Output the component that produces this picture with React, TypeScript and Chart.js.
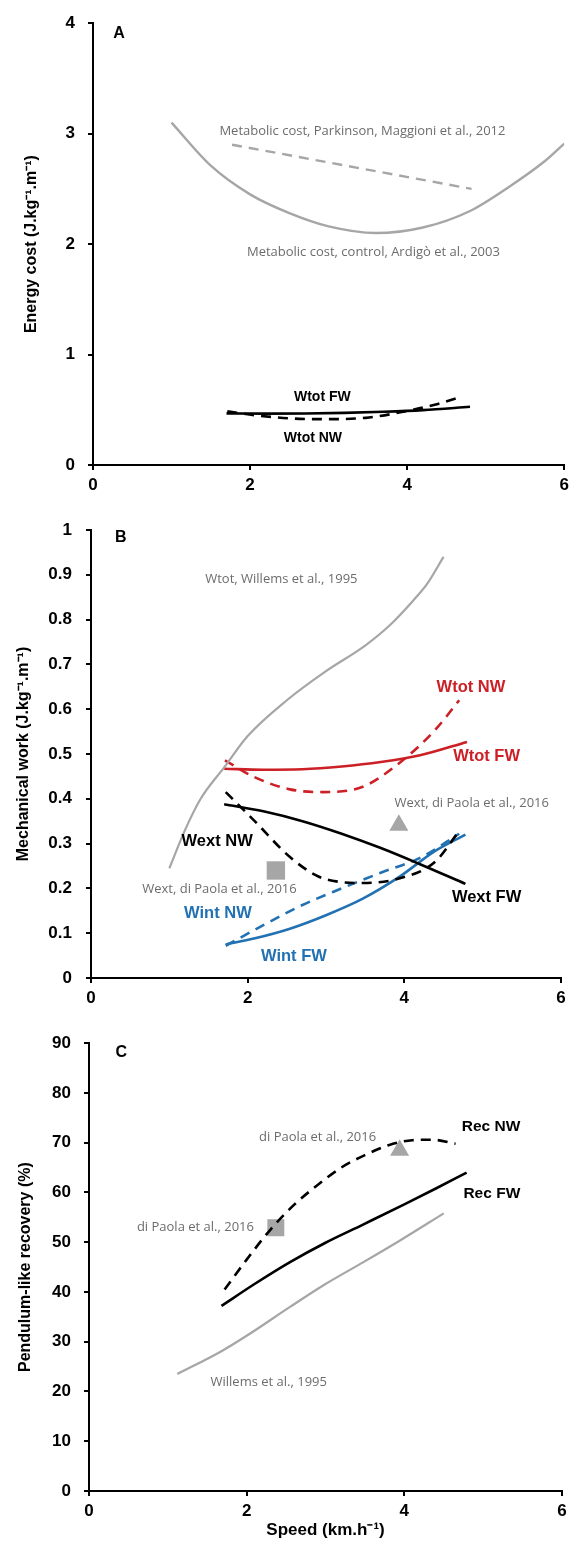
import React, { useEffect, useRef } from "react";
import { Chart, registerables } from "chart.js";

Chart.register(...registerables);

// ---------- DATA ----------
// shared x ticks
const speedTicks = [0, 2, 4, 6];

// Panel A (energy cost)
const energyTicks = [0, 1, 2, 3, 4];
const ctrlSpeed = [1.0, 1.5, 2.0, 2.5, 3.0, 3.6, 4.2, 4.8, 5.3, 5.75, 6.0];
const ctrlCost = [3.1, 2.71, 2.45, 2.28, 2.16, 2.1, 2.15, 2.3, 2.52, 2.75, 2.91];
const parkSpeed = [1.77, 4.82];
const parkCost = [2.9, 2.5];

// Wtot (used in panels A and B)
const wtotFwSpeed = [1.7, 2.2, 2.7, 3.2, 3.7, 4.2, 4.8];
const wtotFw = [0.467, 0.465, 0.466, 0.472, 0.482, 0.497, 0.527];
const wtotNwSpeed = [1.71, 2.08, 2.54, 2.96, 3.47, 3.93, 4.39, 4.7];
const wtotNw = [0.486, 0.449, 0.421, 0.415, 0.427, 0.479, 0.553, 0.62];

// Panel B (mechanical work)
const workTicks = [0, 0.1, 0.2, 0.3, 0.4, 0.5, 0.6, 0.7, 0.8, 0.9, 1];
const willemsWSpeed = [1.0, 1.2, 1.4, 1.7, 2.0, 2.5, 3.0, 3.5, 3.8, 4.1, 4.3, 4.5];
const willemsW = [0.245, 0.33, 0.4, 0.47, 0.54, 0.62, 0.685, 0.742, 0.785, 0.84, 0.882, 0.94];
const wextFwSpeed = [1.7, 2.2, 2.7, 3.2, 3.7, 4.2, 4.78];
const wextFw = [0.388, 0.372, 0.35, 0.322, 0.29, 0.254, 0.21];
const wextNwSpeed = [1.72, 2.08, 2.54, 2.91, 3.2, 3.47, 3.93, 4.39, 4.7];
const wextNw = [0.415, 0.352, 0.27, 0.226, 0.214, 0.212, 0.222, 0.259, 0.328];
const wintFwSpeed = [1.72, 2.08, 2.54, 3.0, 3.47, 3.93, 4.39, 4.78];
const wintFw = [0.075, 0.088, 0.11, 0.14, 0.177, 0.225, 0.283, 0.32];
const wintNwSpeed = [1.72, 2.2, 2.7, 3.2, 3.7, 4.2, 4.7];
const wintNw = [0.072, 0.118, 0.163, 0.2, 0.235, 0.268, 0.322];
const diPaolaWextSquare = { x: 2.36, y: 0.24 };
const diPaolaWextTriangle = { x: 3.93, y: 0.341 };

// Panel C (recovery)
const recTicks = [0, 10, 20, 30, 40, 50, 60, 70, 80, 90];
const recNwSpeed = [1.72, 2.0, 2.3, 2.6, 2.9, 3.2, 3.5, 3.8, 4.1, 4.35, 4.65];
const recNw = [40.5, 46.5, 52.5, 57.5, 61.5, 65, 67.5, 69.5, 70.5, 70.6, 69.8];
const recFwSpeed = [1.68, 2.1, 2.55, 3.0, 3.47, 4.0, 4.4, 4.79];
const recFw = [37.2, 41.6, 46.0, 49.9, 53.5, 57.6, 60.8, 64.0];
const willemsRSpeed = [1.12, 1.68, 2.0, 2.55, 3.0, 3.47, 3.94, 4.5];
const willemsR = [23.5, 28.1, 31.2, 37.0, 41.6, 45.9, 50.3, 55.8];
const diPaolaRecSquare = { x: 2.37, y: 52.9 };
const diPaolaRecTriangle = { x: 3.94, y: 68.5 };

// ---------- STYLE ----------
const SANS = "'Liberation Sans', Arial, sans-serif";
const REF = "'Open Sans', 'Noto Sans', sans-serif";
const GRAY_LINE = "#a6a6a6";
const GRAY_TEXT = "#6c6c6c";
const RED = "#cc1f26";
const BLUE = "#2271b3";
const BLACK = "#000000";

const zip = (xs: number[], ys: number[]) => xs.map((x, i) => ({ x, y: ys[i] }));

type Note = { text: string; x: number; y: number; color: string; font: string };

const refFont = `13px ${REF}`;

const notesA: Note[] = [
  { text: "A", x: 0.33, y: 3.91, color: BLACK, font: `bold 16px ${SANS}` },
  { text: "Metabolic cost, Parkinson, Maggioni et al., 2012", x: 3.43, y: 3.02, color: GRAY_TEXT, font: refFont },
  { text: "Metabolic cost, control, Ardigò et al., 2003", x: 3.57, y: 1.93, color: GRAY_TEXT, font: refFont },
  { text: "Wtot FW", x: 2.92, y: 0.616, color: BLACK, font: `bold 14px ${SANS}` },
  { text: "Wtot NW", x: 2.8, y: 0.247, color: BLACK, font: `bold 14px ${SANS}` },
];
const notesB: Note[] = [
  { text: "B", x: 0.38, y: 0.984, color: BLACK, font: `bold 16px ${SANS}` },
  { text: "Wtot, Willems et al., 1995", x: 2.43, y: 0.89, color: GRAY_TEXT, font: refFont },
  { text: "Wtot NW", x: 4.85, y: 0.649, color: RED, font: `bold 16.5px ${SANS}` },
  { text: "Wtot FW", x: 5.05, y: 0.494, color: RED, font: `bold 16.5px ${SANS}` },
  { text: "Wext, di Paola et al., 2016", x: 4.86, y: 0.389, color: GRAY_TEXT, font: refFont },
  { text: "Wext NW", x: 1.61, y: 0.304, color: BLACK, font: `bold 16.5px ${SANS}` },
  { text: "Wext, di Paola et al., 2016", x: 1.64, y: 0.198, color: GRAY_TEXT, font: refFont },
  { text: "Wext FW", x: 5.05, y: 0.179, color: BLACK, font: `bold 16.5px ${SANS}` },
  { text: "Wint NW", x: 1.62, y: 0.144, color: BLUE, font: `bold 16.5px ${SANS}` },
  { text: "Wint FW", x: 2.59, y: 0.047, color: BLUE, font: `bold 16.5px ${SANS}` },
];
const notesC: Note[] = [
  { text: "C", x: 0.41, y: 88.2, color: BLACK, font: `bold 16px ${SANS}` },
  { text: "Rec NW", x: 5.1, y: 73.2, color: BLACK, font: `bold 15.5px ${SANS}` },
  { text: "Rec FW", x: 5.11, y: 59.7, color: BLACK, font: `bold 15.5px ${SANS}` },
  { text: "di Paola et al., 2016", x: 2.9, y: 71.0, color: GRAY_TEXT, font: refFont },
  { text: "di Paola et al., 2016", x: 1.35, y: 52.9, color: GRAY_TEXT, font: refFont },
  { text: "Willems et al., 1995", x: 2.28, y: 21.9, color: GRAY_TEXT, font: refFont },
];

function notesPlugin(notes: Note[]) {
  return {
    id: "notes",
    afterDatasetsDraw(chart: any) {
      const { ctx, scales } = chart;
      notes.forEach((n) => {
        ctx.save();
        ctx.font = n.font;
        ctx.fillStyle = n.color;
        ctx.textAlign = "center";
        ctx.textBaseline = "middle";
        ctx.fillText(n.text, scales.x.getPixelForValue(n.x), scales.y.getPixelForValue(n.y));
        ctx.restore();
      });
    },
  };
}

function line(data: { x: number; y: number }[], color: string, dashed: boolean, width = 2.6) {
  return {
    data,
    showLine: true,
    borderColor: color,
    backgroundColor: color,
    borderWidth: width,
    borderDash: dashed ? [10, 7] : [],
    pointRadius: 0,
    cubicInterpolationMode: "monotone",
    fill: false,
  };
}

function marker(p: { x: number; y: number }, style: string, r: number) {
  return {
    data: [p],
    showLine: false,
    pointStyle: style,
    pointRadius: r,
    backgroundColor: GRAY_LINE,
    borderColor: GRAY_LINE,
    borderWidth: 0,
  };
}

const tickFont = { family: SANS, size: 17, weight: "bold" as const };
const titleFont = { family: SANS, size: 16, weight: "bold" as const };
const gridOpts = { drawOnChartArea: false, drawTicks: true, tickLength: 5, color: BLACK, lineWidth: 2 };
const borderOpts = { display: true, color: BLACK, width: 2 };

function xScale(height: number, withTitle: boolean) {
  return {
    type: "linear",
    min: 0,
    max: 6,
    afterBuildTicks: (s: any) => {
      s.ticks = speedTicks.map((v) => ({ value: v }));
    },
    afterFit: (s: any) => {
      s.height = height;
    },
    ticks: { font: tickFont, color: BLACK, padding: 5, callback: (v: any) => String(v) },
    grid: gridOpts,
    border: borderOpts,
    title: {
      display: withTitle,
      text: "Speed (km.h⁻¹)",
      font: { family: SANS, size: 17, weight: "bold" as const },
      color: BLACK,
      padding: { top: 0, bottom: 4 },
    },
  };
}

function yScale(ticks: number[], width: number, pad: number, title: string, titlePad: number) {
  return {
    type: "linear",
    min: ticks[0],
    max: ticks[ticks.length - 1],
    afterBuildTicks: (s: any) => {
      s.ticks = ticks.map((v) => ({ value: v }));
    },
    afterFit: (s: any) => {
      s.width = width;
    },
    ticks: { font: tickFont, color: BLACK, padding: pad, callback: (v: any) => String(v) },
    grid: gridOpts,
    border: borderOpts,
    title: { display: true, text: title, font: titleFont, color: BLACK, padding: { top: titlePad, bottom: 0 } },
  };
}

function baseOptions(padding: any, x: any, y: any) {
  return {
    responsive: false,
    animation: false,
    events: [],
    layout: { padding },
    plugins: { legend: { display: false }, tooltip: { enabled: false } },
    scales: { x, y },
  };
}

function Panel({ top, height, build }: { top: number; height: number; build: () => any }) {
  const ref = useRef<HTMLCanvasElement | null>(null);
  useEffect(() => {
    if (!ref.current) return;
    const chart = new Chart(ref.current, build());
    return () => chart.destroy();
  }, []);
  return (
    <canvas
      ref={ref}
      width={574}
      height={height}
      style={{ position: "absolute", left: 0, top, width: 574, height }}
    />
  );
}

const buildA = () => ({
  type: "scatter",
  data: {
    datasets: [
      line(zip(ctrlSpeed, ctrlCost), GRAY_LINE, false, 2.4),
      line(zip(parkSpeed, parkCost), GRAY_LINE, true, 2.4),
      line(zip(wtotFwSpeed, wtotFw), BLACK, false, 2.6),
      line(zip(wtotNwSpeed, wtotNw), BLACK, true, 2.6),
    ],
  },
  options: baseOptions(
    { top: 16, right: 5, left: 0, bottom: 0 },
    xScale(35, false),
    yScale(energyTicks, 93, 13, "Energy cost (J.kg⁻¹.m⁻¹)", 22)
  ),
  plugins: [notesPlugin(notesA)],
});

const buildB = () => ({
  type: "scatter",
  data: {
    datasets: [
      line(zip(willemsWSpeed, willemsW), GRAY_LINE, false, 2.2),
      line(zip(wtotFwSpeed, wtotFw), RED, false, 2.6),
      line(zip(wtotNwSpeed, wtotNw), RED, true, 2.6),
      line(zip(wextFwSpeed, wextFw), BLACK, false, 2.6),
      line(zip(wextNwSpeed, wextNw), BLACK, true, 2.6),
      line(zip(wintFwSpeed, wintFw), BLUE, false, 2.6),
      line(zip(wintNwSpeed, wintNw), BLUE, true, 2.6),
      marker(diPaolaWextSquare, "rect", 13),
      marker(diPaolaWextTriangle, "triangle", 11),
    ],
  },
  options: baseOptions(
    { top: 30, right: 5, left: 0, bottom: 0 },
    xScale(42, false),
    yScale(workTicks, 91, 14, "Mechanical work (J.kg⁻¹.m⁻¹)", 14)
  ),
  plugins: [notesPlugin(notesB)],
});

const buildC = () => ({
  type: "scatter",
  data: {
    datasets: [
      line(zip(willemsRSpeed, willemsR), GRAY_LINE, false, 2.2),
      line(zip(recFwSpeed, recFw), BLACK, false, 2.6),
      line(zip(recNwSpeed, recNw), BLACK, true, 2.6),
      marker(diPaolaRecSquare, "rect", 12),
      marker(diPaolaRecTriangle, "triangle", 11),
    ],
  },
  options: baseOptions(
    { top: 23, right: 7, left: 0, bottom: 0 },
    xScale(54, true),
    yScale(recTicks, 89, 13, "Pendulum-like recovery (%)", 16)
  ),
  plugins: [notesPlugin(notesC)],
});

export default function App() {
  return (
    <div style={{ position: "absolute", left: 0, top: 0, width: 574, height: 1545, background: "#fff" }}>
      <Panel top={0} height={500} build={buildA} />
      <Panel top={500} height={520} build={buildB} />
      <Panel top={1020} height={525} build={buildC} />
    </div>
  );
}
